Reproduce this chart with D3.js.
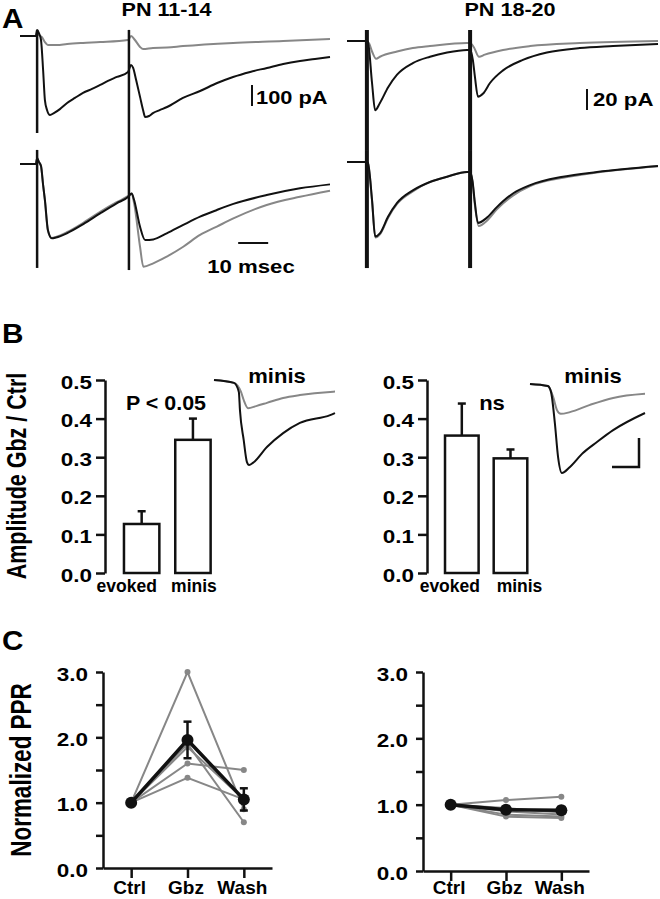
<!DOCTYPE html>
<html>
<head>
<meta charset="utf-8">
<script src="https://cdn.jsdelivr.net/npm/d3@7"></script>
<style>
  body { margin: 0; background: #fff; }
  text { font-family: "Liberation Sans", Arial, sans-serif; font-weight: bold; fill: #000; }
</style>
</head>
<body>
<script>
// ---------- DATA ----------
// Panel A traces, [time ms, current pA]
// PN 11-14
const youngTopCtrl = [[0,0],[5.3,0],[5.7,29],[6.3,14],[7,-19],[7.7,-162],[8.3,-305],[9,-352],[10,-376],[11.3,-367],[13.3,-348],[15.7,-319],[18.3,-295],[21,-271],[24,-252],[26.7,-233],[29.3,-214],[32.3,-195],[36,-171],[37,-138],[37.7,-152],[38.7,-210],[40,-290],[41,-352],[41.7,-386],[43,-381],[44.3,-367],[46.7,-352],[49,-338],[54.3,-295],[60,-262],[65.7,-224],[71,-195],[76.7,-171],[82.3,-152],[87.7,-133],[93.3,-119],[98.3,-110],[103.3,-100]];
const youngTopGbz = [[0,0],[5.3,0],[5.7,20],[6.3,5],[7.3,-5],[8.3,-29],[9.3,-43],[12.3,-43],[15.7,-38],[21,-33],[26.7,-29],[36,-19],[37,0],[38.3,-19],[40,-52],[41,-62],[44.3,-57],[49,-55],[54.3,-48],[71,-33],[87.7,-24],[103.3,-14]];
const youngBotCtrl = [[0,0],[5.3,0],[5.7,29],[6.3,10],[7,-10],[7.7,-100],[8.3,-171],[9.3,-314],[10.6,-354],[12,-350],[15.6,-330],[21.1,-286],[26.7,-235],[32.2,-187],[36.1,-156],[37.2,-140],[38,-170],[40,-299],[41.7,-362],[44.4,-359],[48.9,-330],[54.4,-290],[60,-251],[65.6,-219],[71.1,-190],[82.2,-148],[93.3,-116],[103.3,-97]];
const youngBotGbz = [[0,0],[5.3,0],[5.7,25],[6.3,10],[7,-10],[7.7,-100],[8.3,-175],[9.3,-318],[10.6,-352],[12,-347],[15.6,-325],[21.1,-280],[26.7,-228],[32.2,-182],[36.1,-152],[37.2,-140],[38,-185],[40,-394],[41.1,-489],[44.4,-473],[48.9,-441],[54.4,-394],[60,-338],[65.6,-298],[71.1,-259],[82.2,-195],[93.3,-156],[103.3,-127]];
const youngStims = [5.7, 36.3];
const youngTopArt = [[29,-462],[29,-543]];
const youngBotArt = [[67,-495],[67,-505]];

// PN 18-20
const oldTopCtrl = [[0,0],[5.5,0],[6.1,-1],[7.3,-40],[8.2,-66],[9.6,-59],[12,-44],[14.6,-32],[19.2,-21],[24.2,-15],[29.2,-11],[35,-8.6],[35.9,-8.6],[36.7,-18],[37.3,-34],[38.2,-53],[39.7,-50],[41.7,-40],[45.5,-28],[51.3,-18],[58.3,-11],[67.9,-6.7],[77.6,-4.8],[90.7,-2.9]];
const oldTopGbz = [[0,0],[5.5,0],[6.4,-2],[7.3,-10],[8.5,-17],[9.6,-15],[14.6,-10],[19.2,-6.7],[24.2,-4.8],[35,-1.9],[35.9,-1.9],[37,-6],[38.5,-15],[40.2,-13],[45.5,-8.6],[53.4,-4.8],[67.9,-1.9],[90.7,0]];
const oldBotCtrl = [[0,0],[5.5,0],[6.1,-1],[7.3,-36],[8.2,-71],[9.6,-68],[12,-52],[14.6,-39],[19.2,-27],[24.2,-19],[29.2,-14],[35,-9.5],[35.9,-9.5],[36.6,-18],[37.3,-39],[38.2,-58],[40.8,-53],[43.7,-43],[48.4,-30],[53.4,-22],[63,-14],[72.9,-9.5],[90.7,-3.8]];
const oldBotGbz = [[0,0],[5.5,0],[6.1,-1],[7.3,-37],[8.3,-72],[9.6,-69],[12,-53],[14.6,-40],[19.2,-28],[24.2,-19],[29.2,-14],[35,-9.5],[35.9,-9.5],[36.6,-19],[37.3,-41],[38.4,-61],[40.8,-56],[43.7,-45],[48.4,-32],[53.4,-23],[63,-15],[72.9,-10],[90.7,-4]];
const oldStims = [5.8, 35.9];
const oldTopArt = [[10.5,-104],[10.5,-104]];
const oldBotArt = [[11.4,-101],[11.4,-101]];

// Panel B bars
const barCats = ["evoked", "minis"];
const barTicks = [0, 0.1, 0.2, 0.3, 0.4, 0.5];
const youngBar = [0.127, 0.345];
const youngBarErr = [0.033, 0.055];
const oldBar = [0.356, 0.297];
const oldBarErr = [0.083, 0.023];

// Panel B inset minis, [time ms, current pA]
const youngMiniCtrl = [[0,0],[3.7,-1],[4.6,-4.1],[4.8,-10.3],[5.5,-20.7],[6.1,-28.3],[6.5,-29.3],[7.2,-28.6],[9.8,-23.1],[12.8,-18.3],[15.9,-14.8],[21.5,-12.1],[22.4,-11.4]];
const youngMiniGbz = [[0,0],[3.7,-1],[5,-4.1],[5.5,-6.9],[6.3,-9.7],[7.8,-9],[9.8,-7.9],[12.8,-6.2],[15.9,-5.2],[21.5,-4.1],[22.4,-4]];
const oldMiniCtrl = [[0,0],[3.3,-0.7],[3.9,-2.8],[4.6,-13.4],[5.2,-25.2],[5.9,-30.7],[7.4,-28.6],[9.8,-23.8],[12.4,-20],[15.4,-15.9],[21.3,-10]];
const oldMiniGbz = [[0,0],[3.3,-0.7],[4.3,-4.5],[5,-9],[5.7,-10.3],[7.4,-9.7],[11.1,-7.2],[15.4,-4.8],[21.3,-3.4]];

// Panel C PPR
const pprConds = ["Ctrl", "Gbz", "Wash"];
const pprTicks = [0, 0.5, 1, 1.5, 2, 2.5, 3];
const youngCells = [[1,3.0,0.9],[1,1.9,0.7],[1,1.85,1.05],[1,1.6,1.5],[1,1.38,1.05]];
const youngMean = [1, 1.96, 1.05];
const youngSem = [0, 0.28, 0.17];
const oldCells = [[1,1.07,1.12],[1,0.95,0.88],[1,0.9,0.85],[1,0.85,0.82],[1,0.82,0.8]];
const oldMean = [1, 0.925, 0.915];
const oldSem = [0, 0.04, 0.05];

// ---------- DRAW ----------
const BLACK = "#111", GRAY = "#878787";
const svg = d3.select("body").append("svg").attr("width", 660).attr("height", 899);

function label(x, y, s, size, sx, anchor, rot) {
    return svg.append("text")
        .attr("transform", `translate(${x},${y}) scale(${sx},1)` + (rot ? ` rotate(${rot})` : ""))
        .attr("text-anchor", anchor || "start")
        .attr("font-size", size)
        .text(s);
}

function trace(x, y, data, color, w) {
    svg.append("path").datum(data)
        .attr("d", d3.line().x(d => x(d[0])).y(d => y(d[1])).curve(d3.curveMonotoneX))
        .attr("fill", "none").attr("stroke", color).attr("stroke-width", w)
        .attr("stroke-linejoin", "round");
}

function stimLines(x, y, stims, arts, w) {
    stims.forEach((t, i) => {
        svg.append("line")
            .attr("x1", x(t)).attr("x2", x(t))
            .attr("y1", y(arts[i][0])).attr("y2", y(arts[i][1]))
            .attr("stroke", BLACK).attr("stroke-width", w);
    });
}

// panel letters
label(2, 28, "A", 27, 1.1);
label(2, 343, "B", 27, 1.1);
label(2, 650, "C", 27, 1.1);

// ----- A -----
label(166.5, 16, "PN 11-14", 18, 1.2, "middle");
label(510, 16, "PN 18-20", 18, 1.2, "middle");

const xYoung = d3.scaleLinear().domain([0, 103.3]).range([20, 330]);
const yYoungTop = d3.scaleLinear().domain([0, -100]).range([36, 57]);
const yYoungBot = d3.scaleLinear().domain([0, -100]).range([164, 185]);
trace(xYoung, yYoungTop, youngTopGbz, GRAY, 2);
trace(xYoung, yYoungTop, youngTopCtrl, BLACK, 2);
trace(xYoung, yYoungBot, youngBotGbz, GRAY, 2);
trace(xYoung, yYoungBot, youngBotCtrl, BLACK, 2);
stimLines(xYoung, yYoungTop, youngStims, youngTopArt, 2.5);
stimLines(xYoung, yYoungBot, youngStims, youngBotArt, 2.5);

const xOld = d3.scaleLinear().domain([0, 90.7]).range([347, 658]);
const yOldTop = d3.scaleLinear().domain([0, -20]).range([41, 62]);
const yOldBot = d3.scaleLinear().domain([0, -20]).range([162, 183]);
trace(xOld, yOldTop, oldTopGbz, GRAY, 2);
trace(xOld, yOldTop, oldTopCtrl, BLACK, 2);
trace(xOld, yOldBot, oldBotGbz, GRAY, 2);
trace(xOld, yOldBot, oldBotCtrl, BLACK, 2);
stimLines(xOld, yOldTop, oldStims, oldTopArt, 4);
stimLines(xOld, yOldBot, oldStims, oldBotArt, 4);

// scale bars
svg.append("line").attr("x1", 252).attr("x2", 252)
    .attr("y1", 85).attr("y2", 85 + (yYoungTop(-100) - yYoungTop(0)))
    .attr("stroke", BLACK).attr("stroke-width", 2);
label(256, 104, "100 pA", 18.5, 1.18, "start");
svg.append("line").attr("x1", xYoung(72.7)).attr("x2", xYoung(82.7))
    .attr("y1", 243).attr("y2", 243).attr("stroke", BLACK).attr("stroke-width", 2);
label(251, 273, "10 msec", 18.5, 1.2, "middle");
svg.append("line").attr("x1", 587).attr("x2", 587)
    .attr("y1", 89).attr("y2", 89 + (yOldTop(-20) - yOldTop(0)))
    .attr("stroke", BLACK).attr("stroke-width", 2);
label(593, 106, "20 pA", 18.5, 1.2);

// ----- B -----
const yBar = d3.scaleLinear().domain([0, 0.5]).range([573, 380]);

function styleAxis(g, sx, tx, dy, size) {
    g.select(".domain").attr("stroke", BLACK).attr("stroke-width", 2.5);
    g.selectAll(".tick line").attr("stroke", BLACK).attr("stroke-width", 2.5);
    g.selectAll(".tick text")
        .attr("font-size", size)
        .attr("x", tx / sx)
        .attr("dy", dy)
        .attr("transform", `scale(${sx},1)`);
}

function barPanel(ax, rEnd, vals, errs, labelShift, note, noteX) {
    const x = d3.scaleBand().domain(barCats).range([ax, rEnd]).paddingInner(0.31).paddingOuter(0.37);
    const g = svg.append("g").attr("transform", `translate(${ax},0)`)
        .call(d3.axisLeft(yBar).tickValues(barTicks).tickFormat(d3.format(".1f")).tickSize(9).tickSizeOuter(0));
    styleAxis(g, 1.25, -13, "0.45em", 18);

    barCats.forEach((c, i) => {
        const cx = x(c) + x.bandwidth() / 2;
        svg.append("line").attr("x1", cx).attr("x2", cx)
            .attr("y1", yBar(vals[i])).attr("y2", yBar(vals[i] + errs[i]))
            .attr("stroke", BLACK).attr("stroke-width", 2.5);
        svg.append("line").attr("x1", cx - 4).attr("x2", cx + 4)
            .attr("y1", yBar(vals[i] + errs[i])).attr("y2", yBar(vals[i] + errs[i]))
            .attr("stroke", BLACK).attr("stroke-width", 2.5);
        svg.append("rect")
            .attr("x", x(c)).attr("y", yBar(vals[i]))
            .attr("width", x.bandwidth()).attr("height", yBar(0) - yBar(vals[i]))
            .attr("fill", "#fff").attr("stroke", BLACK).attr("stroke-width", 2.5);
        label(cx + labelShift[i], 592, c, 17.5, 1.0, "middle");
    });
    label(noteX, 410, note.text, note.size, note.sx, "middle");
}

barPanel(105, 229.6, youngBar, youngBarErr, [-15, 1], { text: "P < 0.05", size: 19.5, sx: 1.1 }, 166);
barPanel(427, 545.3, oldBar, oldBarErr, [-12, 9], { text: "ns", size: 21, sx: 1.05 }, 492);

label(26, 476, "Amplitude Gbz / Ctrl", 21.5, 1.25, "middle", -90);

// insets
const xMiniY = d3.scaleLinear().domain([0, 22.4]).range([214, 335]);
const yMiniY = d3.scaleLinear().domain([0, -10]).range([380, 409]);
trace(xMiniY, yMiniY, youngMiniGbz, GRAY, 2);
trace(xMiniY, yMiniY, youngMiniCtrl, BLACK, 2);
label(277, 383, "minis", 20, 1.1, "middle");

const xMiniO = d3.scaleLinear().domain([0, 21.3]).range([530, 645]);
const yMiniO = d3.scaleLinear().domain([0, -10]).range([384, 413]);
trace(xMiniO, yMiniO, oldMiniGbz, GRAY, 2);
trace(xMiniO, yMiniO, oldMiniCtrl, BLACK, 2);
label(593, 383, "minis", 20, 1.1, "middle");
// inset scale bar (10 pA / 5 ms)
const sbX = 639, sbY = 467;
svg.append("path")
    .attr("d", `M${sbX},${sbY - (yMiniO(-10) - yMiniO(0))}V${sbY}H${sbX - (xMiniO(5) - xMiniO(0))}`)
    .attr("fill", "none").attr("stroke", BLACK).attr("stroke-width", 2.5);

// ----- C -----
function pprPanel(ax, xEnd, y0, y3, cells, mean, sem) {
    const x = d3.scalePoint().domain(pprConds).range([ax, xEnd]).padding(0.5);
    const y = d3.scaleLinear().domain([0, 3]).range([y0, y3]);

    const gy = svg.append("g").attr("transform", `translate(${ax},0)`)
        .call(d3.axisLeft(y).tickValues(pprTicks)
            .tickFormat(d => d % 1 === 0 ? d3.format(".1f")(d) : "")
            .tickSize(7).tickSizeOuter(0));
    styleAxis(gy, 1.25, -15, "0.45em", 18);

    const gx = svg.append("g").attr("transform", `translate(0,${y0})`)
        .call(d3.axisBottom(x).tickSize(10).tickSizeOuter(0));
    gx.select(".domain").attr("stroke", BLACK).attr("stroke-width", 2.5);
    gx.selectAll(".tick line").attr("stroke", BLACK).attr("stroke-width", 2.5);
    // same text baseline for both panels, kept inside the picture
    gx.selectAll(".tick text").attr("font-size", 19).attr("y", 880.5 - y0).attr("dx", -2);

    const line = d3.line().x((d, i) => x(pprConds[i])).y(d => y(d));
    cells.forEach(c => {
        svg.append("path").datum(c).attr("d", line)
            .attr("fill", "none").attr("stroke", GRAY).attr("stroke-width", 2);
    });
    cells.forEach(c => {
        c.forEach((v, i) => {
            svg.append("circle").attr("cx", x(pprConds[i])).attr("cy", y(v)).attr("r", 3).attr("fill", GRAY);
        });
    });
    svg.append("path").datum(mean).attr("d", line)
        .attr("fill", "none").attr("stroke", BLACK).attr("stroke-width", 3.5);
    mean.forEach((v, i) => {
        const cx = x(pprConds[i]);
        if (sem[i] > 0) {
            svg.append("line").attr("x1", cx).attr("x2", cx)
                .attr("y1", y(v - sem[i])).attr("y2", y(v + sem[i]))
                .attr("stroke", BLACK).attr("stroke-width", 2.5);
            [v - sem[i], v + sem[i]].forEach(e => {
                svg.append("line").attr("x1", cx - 4).attr("x2", cx + 4)
                    .attr("y1", y(e)).attr("y2", y(e))
                    .attr("stroke", BLACK).attr("stroke-width", 2.5);
            });
        }
        svg.append("circle").attr("cx", cx).attr("cy", y(v)).attr("r", 6).attr("fill", BLACK);
    });
}

pprPanel(103, 272, 868, 672, youngCells, youngMean, youngSem);
pprPanel(423, 589, 871, 672, oldCells, oldMean, oldSem);

label(31, 770, "Normalized PPR", 22.5, 1.28, "middle", -90);
</script>
</body>
</html>
